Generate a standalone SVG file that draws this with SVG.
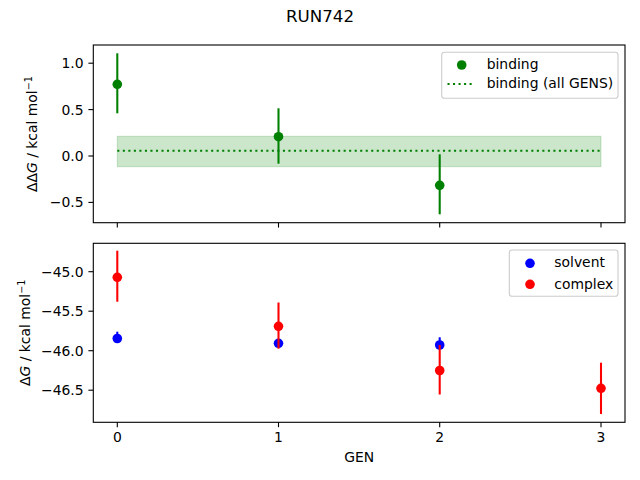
<svg xmlns="http://www.w3.org/2000/svg" width="640" height="480" viewBox="0 0 640 480">
<style>
text{font-family:"DejaVu Sans","Liberation Sans",sans-serif;fill:#000}
.tl{font-size:13.9px}
.ty{font-size:13.9px;text-anchor:end}
.tx{font-size:13.9px;text-anchor:middle}
.ax{fill:none;stroke:#000;stroke-width:1.1}
.tk{stroke:#000;stroke-width:1.1}
.eg{stroke:#008000;stroke-width:2.08}
.eb{stroke:#0000ff;stroke-width:2.08}
.er{stroke:#ff0000;stroke-width:2.08}
.leg{fill:#fff;fill-opacity:0.8;stroke:#cccccc;stroke-width:1.1}
</style>
<rect width="640" height="480" fill="#fff"/>
<text x="320" y="21.7" font-size="16.7" text-anchor="middle">RUN742</text>

<g id="top-axes">
  <rect id="band" x="117.3" y="136.3" width="483.7" height="30.4" fill="#008000" fill-opacity="0.2" stroke="#008000" stroke-opacity="0.2" stroke-width="1"/>
  <line id="binding-all" x1="117.3" y1="150.7" x2="601" y2="150.7" stroke="#008000" stroke-width="2.08" stroke-dasharray="2.08 3.44"/>
  <g id="binding">
    <line class="eg" x1="117.3" y1="53.3" x2="117.3" y2="113.3"/>
    <line class="eg" x1="278.5" y1="108.3" x2="278.5" y2="163.7"/>
    <line class="eg" x1="439.7" y1="154.3" x2="439.7" y2="214.3"/>
    <circle cx="117.3" cy="84.3" r="4.8" fill="#008000"/>
    <circle cx="278.5" cy="136.7" r="4.8" fill="#008000"/>
    <circle cx="439.7" cy="185.3" r="4.8" fill="#008000"/>
  </g>
  <rect class="ax" x="93.3" y="45" width="531.7" height="177.7"/>
  <g id="top-ticks">
    <line class="tk" x1="117.3" y1="222.7" x2="117.3" y2="227.6"/>
    <line class="tk" x1="278.5" y1="222.7" x2="278.5" y2="227.6"/>
    <line class="tk" x1="439.7" y1="222.7" x2="439.7" y2="227.6"/>
    <line class="tk" x1="601" y1="222.7" x2="601" y2="227.6"/>
    <line class="tk" x1="88.4" y1="63.2" x2="93.3" y2="63.2"/>
    <line class="tk" x1="88.4" y1="109.6" x2="93.3" y2="109.6"/>
    <line class="tk" x1="88.4" y1="156" x2="93.3" y2="156"/>
    <line class="tk" x1="88.4" y1="202.4" x2="93.3" y2="202.4"/>
    <text class="ty" x="83.6" y="68.2">1.0</text>
    <text class="ty" x="83.6" y="114.6">0.5</text>
    <text class="ty" x="83.6" y="161">0.0</text>
    <text class="ty" x="83.6" y="207.4">−0.5</text>
  </g>
  <text class="tl" transform="translate(37.3,134) rotate(-90)" text-anchor="middle">ΔΔ<tspan font-style="italic">G</tspan> / kcal mol<tspan font-size="9.7" dy="-5.5">−1</tspan></text>
  <g id="top-legend">
    <rect class="leg" x="441.7" y="52.3" width="176.3" height="46" rx="2.8"/>
    <circle cx="461.7" cy="65" r="4.8" fill="#008000"/>
    <text class="tl" x="486.7" y="69">binding</text>
    <line x1="447.5" y1="84" x2="475" y2="84" stroke="#008000" stroke-width="2.08" stroke-dasharray="2.08 3.44"/>
    <text class="tl" x="486.7" y="88">binding (all GENS)</text>
  </g>
</g>

<g id="bottom-axes">
  <g id="solvent">
    <line class="eb" x1="117.3" y1="331.7" x2="117.3" y2="342"/>
    <line class="eb" x1="278.5" y1="340" x2="278.5" y2="346"/>
    <line class="eb" x1="439.7" y1="337.3" x2="439.7" y2="349"/>
    <circle cx="117.3" cy="338.5" r="4.8" fill="#0000ff"/>
    <circle cx="278.5" cy="343.3" r="4.8" fill="#0000ff"/>
    <circle cx="439.7" cy="345" r="4.8" fill="#0000ff"/>
  </g>
  <g id="complex">
    <line class="er" x1="117.3" y1="250.7" x2="117.3" y2="301.7"/>
    <line class="er" x1="278.5" y1="302.5" x2="278.5" y2="348.7"/>
    <line class="er" x1="439.7" y1="345" x2="439.7" y2="394.5"/>
    <line class="er" x1="601" y1="362.7" x2="601" y2="414"/>
    <circle cx="117.3" cy="277.3" r="4.8" fill="#ff0000"/>
    <circle cx="278.5" cy="326.3" r="4.8" fill="#ff0000"/>
    <circle cx="439.7" cy="370.5" r="4.8" fill="#ff0000"/>
    <circle cx="601" cy="388.3" r="4.8" fill="#ff0000"/>
  </g>
  <rect class="ax" x="93.3" y="243.3" width="531.7" height="179"/>
  <g id="bottom-ticks">
    <line class="tk" x1="117.3" y1="422.3" x2="117.3" y2="427.2"/>
    <line class="tk" x1="278.5" y1="422.3" x2="278.5" y2="427.2"/>
    <line class="tk" x1="439.7" y1="422.3" x2="439.7" y2="427.2"/>
    <line class="tk" x1="601" y1="422.3" x2="601" y2="427.2"/>
    <text class="tx" x="117.3" y="442">0</text>
    <text class="tx" x="278.5" y="442">1</text>
    <text class="tx" x="439.7" y="442">2</text>
    <text class="tx" x="601" y="442">3</text>
    <line class="tk" x1="88.4" y1="271.7" x2="93.3" y2="271.7"/>
    <line class="tk" x1="88.4" y1="311.2" x2="93.3" y2="311.2"/>
    <line class="tk" x1="88.4" y1="350.7" x2="93.3" y2="350.7"/>
    <line class="tk" x1="88.4" y1="390.2" x2="93.3" y2="390.2"/>
    <text class="ty" x="83.6" y="276.7">−45.0</text>
    <text class="ty" x="83.6" y="316.2">−45.5</text>
    <text class="ty" x="83.6" y="355.7">−46.0</text>
    <text class="ty" x="83.6" y="395.2">−46.5</text>
  </g>
  <text class="tl" transform="translate(30,332.8) rotate(-90)" text-anchor="middle">Δ<tspan font-style="italic">G</tspan> / kcal mol<tspan font-size="9.7" dy="-5.5">−1</tspan></text>
  <text class="tx" x="359.2" y="462.3">GEN</text>
  <g id="bottom-legend">
    <rect class="leg" x="509.3" y="250" width="108.7" height="46.3" rx="2.8"/>
    <circle cx="530" cy="263.3" r="4.8" fill="#0000ff"/>
    <text class="tl" x="554.3" y="266.7">solvent</text>
    <circle cx="530" cy="284.3" r="4.8" fill="#ff0000"/>
    <text class="tl" x="554.3" y="288.5">complex</text>
  </g>
</g>
</svg>
